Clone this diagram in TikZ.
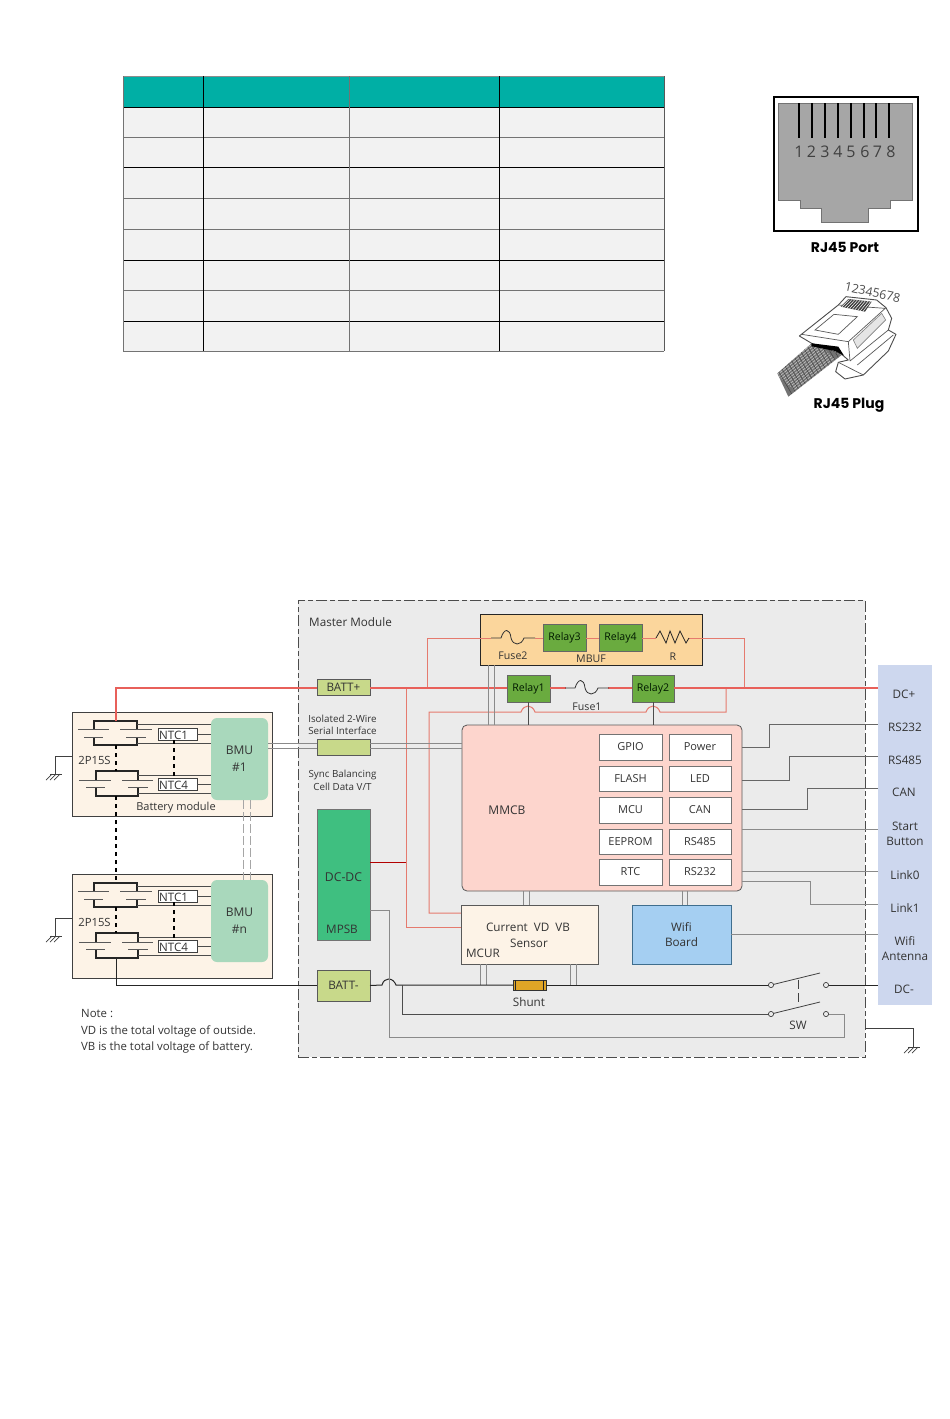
\documentclass[tikz,border=0pt]{standalone}
\usepackage{fontspec}
\setmainfont{Open Sans}
\newfontfamily\gothic{Poppins}
\usetikzlibrary{calc}
\definecolor{txt}{HTML}{333333}
\definecolor{teal}{HTML}{00AFA5}
\definecolor{rowg}{HTML}{F2F2F2}
\definecolor{master}{HTML}{EBEBEB}
\definecolor{modf}{HTML}{FDF3E7}
\definecolor{bmuf}{HTML}{A9D8BC}
\definecolor{battf}{HTML}{C8D98A}
\definecolor{dcf}{HTML}{3FBF80}
\definecolor{mbuff}{HTML}{FBD69C}
\definecolor{relayf}{HTML}{6AAB3F}
\definecolor{mmcbf}{HTML}{FDD5CD}
\definecolor{mcurf}{HTML}{FDF3E7}
\definecolor{wifif}{HTML}{A5CFF2}
\definecolor{wifid}{HTML}{3F6E8E}
\definecolor{panelf}{HTML}{CDD7EE}
\definecolor{redl}{HTML}{E8605A}
\definecolor{redt}{HTML}{E57A6E}
\definecolor{greyl}{HTML}{8A8A8A}
\definecolor{shuntf}{HTML}{E0A526}
\tikzset{
  lab/.style={text=txt,font=\fontsize{11.7}{13}\selectfont,inner sep=0pt,align=center,yshift=-0.8pt},
  small/.style={lab,font=\fontsize{9.8}{11}\selectfont},
  boxbase/.style={draw,inner sep=0pt,outer sep=0pt,text=txt,font=\fontsize{11.7}{13}\selectfont,align=center},
  modbox/.style={boxbase,draw=black!75,fill=modf,line width=0.9pt},
  bmubox/.style={boxbase,fill=bmuf,draw=none,rounded corners=6pt,font=\fontsize{12}{14}\selectfont},
  ntcbox/.style={boxbase,fill=white,draw=black!75,line width=0.8pt},
  battbox/.style={boxbase,fill=battf,draw=black!65,line width=0.8pt},
  dcbox/.style={boxbase,fill=dcf,draw=black!55,line width=0.8pt},
  mbufbox/.style={boxbase,fill=mbuff,draw=black!85,line width=0.9pt},
  relaybox/.style={boxbase,fill=relayf,draw=black!60,line width=0.8pt,text=black!75!green!40!black,font=\fontsize{10.6}{12}\selectfont},
  mmcbbox/.style={boxbase,fill=mmcbf,draw=black!65,line width=0.8pt,rounded corners=5pt},
  chipbox/.style={boxbase,fill=white,draw=black!55,line width=0.7pt,font=\fontsize{11}{13}\selectfont},
  mcurbox/.style={boxbase,fill=mcurf,draw=black!65,line width=0.8pt},
  wifibox/.style={boxbase,fill=wifif,draw=wifid,line width=0.8pt},
  panelbox/.style={boxbase,fill=panelf,draw=none},
  masterbox/.style={boxbase,fill=master,draw=black!70,line width=0.8pt,dash pattern=on 11pt off 3pt on 5pt off 3pt},
  shuntbox/.style={boxbase,fill=shuntf,draw=black!80,line width=0.8pt},
  mainred/.style={draw=redl,line width=2.2pt},
  thinred/.style={draw=redt,line width=1pt},
  darkred/.style={draw=red!70!black,line width=0.9pt},
  greyw/.style={draw=greyl,line width=0.9pt},
  darkw/.style={draw=black!70,line width=0.9pt},
  blackw/.style={draw=black!85,line width=1pt},
  dots/.style={draw=black,line width=1.8pt,dash pattern=on 4pt off 4pt},
}
% box from corners
\newcommand{\bx}[7]{\node[#6,minimum width={((#4)-(#2))*1pt},minimum height={((#5)-(#3))*1pt}] (#1) at ({((#2)+(#4))/2},{((#3)+(#5))/2}) {#7};}
% ground symbol with top at x,y
\newcommand{\gndsym}[2]{%
  \draw[black!75,line width=0.7pt] (#1-5,#2) -- (#1+7,#2);
  \foreach \d in {-3,1,5}{\draw[black!75,line width=0.7pt] (#1+\d,#2) -- (#1+\d-6,#2+6);}}
% fuse waveform
\newcommand{\fusewave}[2]{%
  \draw[black!80,line width=0.8pt] (#1-22,#2) -- (#1-12,#2) .. controls (#1-9,#2-10) and (#1-3,#2-10) .. (#1-2,#2)
   .. controls (#1,#2+8) and (#1+8,#2+8) .. (#1+11,#2) -- (#1+22,#2);}
% switch
\newcommand{\swblade}[1]{%
  \draw[black!75,line width=0.8pt] (sw#1l) -- ++(49,-12);
  \draw[black!75,line width=0.7pt,fill=master] (sw#1l) circle (2.6);
  \draw[black!75,line width=0.7pt,fill=master] (sw#1r) circle (2.6);}
% battery module
\newcommand{\batmod}[3]{% suffix, offset, number text
  \bx{mod#1}{72}{712+#2}{272}{816+#2}{modbox}{}
  \bx{bmu#1}{211}{718+#2}{268}{800+#2}{bmubox}{\raisebox{-3pt}{BMU}\\[3pt]\raisebox{-3pt}{#3}}
  \bx{ntca#1}{158}{728+#2}{197}{740+#2}{ntcbox}{}
  \bx{ntcb#1}{158}{778+#2}{197}{790+#2}{ntcbox}{}
  \node[lab,anchor=west,font=\fontsize{11.6}{12}\selectfont] (nta#1) at (159,734.5+#2) {NTC1};
  \node[lab,anchor=west,font=\fontsize{11.6}{12}\selectfont] (ntb#1) at (159,784.5+#2) {NTC4};
  \coordinate (ca#1) at (116,721+#2);
  \coordinate (cb#1) at (116,745+#2);
  \coordinate (cc#1) at (116,771+#2);
  \coordinate (cd#1) at (116,796+#2);
  % cell brackets
  \draw[blackw,line width=1.2pt] (94,729+#2) |- (137,721+#2) -- (137,729+#2);
  \draw[blackw,line width=1.2pt] (94,737+#2) |- (137,745+#2) -- (137,737+#2);
  \draw[blackw,line width=1.2pt] (96,780+#2) |- (138,771+#2) -- (138,780+#2);
  \draw[blackw,line width=1.2pt] (96,787+#2) |- (138,796+#2) -- (138,787+#2);
  % plates
  \draw[black!65,line width=0.7pt] (78,729+#2) -- (109,729+#2) (84,737+#2) -- (103,737+#2)
     (120,729+#2) -- (152,729+#2) (126,737+#2) -- (146,737+#2)
     (79,780+#2) -- (111,780+#2) (86,787+#2) -- (105,787+#2)
     (122,780+#2) -- (153,780+#2) (128,787+#2) -- (148,787+#2);
  % wires
  \draw[darkw] (137,724+#2) -- (bmu#1.west |- 0,724+#2);
  \draw[darkw] (137,743+#2) -- (bmu#1.west |- 0,743+#2);
  \draw[darkw] (138,775+#2) -- (bmu#1.west |- 0,775+#2);
  \draw[darkw] (138,793+#2) -- (bmu#1.west |- 0,793+#2);
  \draw[darkw] (ntca#1.east) -- (bmu#1.west |- ntca#1.east);
  \draw[darkw] (ntcb#1.east) -- (bmu#1.west |- ntcb#1.east);
  \draw[dots] ([xshift=-3.5pt]ntca#1.south) -- ([xshift=-3.5pt]ntcb#1.north);
  \draw[dots] (cb#1) -- (cc#1);
  \node[lab,font=\fontsize{11.3}{13}\selectfont] (t2p#1) at (94.5,760+#2) {2P15S};
  \draw[black!75,line width=0.7pt] (mod#1.west |- 0,756+#2) -| (55,774+#2);
  \gndsym{55}{774+#2}
}
\begin{document}
\begin{tikzpicture}[x=1pt,y=-1pt]
\useasboundingbox (0,0) rectangle (950,1419);
\fill[white] (0,0) rectangle (950,1419);

% ---------- table
\fill[teal] (123,76) rectangle (664,107);
\fill[rowg] (123,107) rectangle (664,351);
\foreach \y/\c in {76/black!45,107/black,137/black!55,167/black,198/black!55,229/black!55,260/black,290/black!55,321/black,351/black!55}
  \draw[\c,line width=0.9pt] (123,\y) -- (664,\y);
\foreach \x/\c in {123/black!55,203/black,349/black!55,499/black,664/black!65}
  \draw[\c,line width=0.9pt] (\x,76) -- (\x,351);

% ---------- RJ45 port
\node[draw=black,line width=2.6pt,minimum width=144pt,minimum height=134pt,inner sep=0pt] (port) at (846,164) {};
\draw[fill=black!35,draw=black!55,line width=0.8pt] (778,103) -- (912,103) -- (912,200) -- (890,200) -- (890,208) -- (868,208) -- (868,222) -- (821,222) -- (821,208) -- (800,208) -- (800,200) -- (778,200) -- cycle;
\foreach \x in {799.3,812.3,825,838,850.7,863.7,876.3,889.3}
  \draw[black,line width=1.7pt] (\x,103) -- (\x,138);
\foreach \x/\n in {799/1,811.5/2,825/3,838/4,851/5,865/6,877.5/7,891/8}
  \node[text=black!75,font=\fontsize{16}{16}\selectfont,inner sep=0pt] (pn\n) at (\x,152) {\n};
\node[font=\gothic\bfseries\fontsize{14}{14}\selectfont,inner sep=0pt] (portlab) at (845,247) {RJ45 Port};

% ---------- RJ45 plug
\begin{scope}[shift={(770,275)},x=0.3333pt,y=-0.3333pt]
  \path[fill=black!55] (125,205) -- (215,240) -- (55,365) -- (22,295) -- cycle;
  \begin{scope}
    \clip (125,205) -- (215,240) -- (55,365) -- (22,295) -- cycle;
    \foreach \i in {0,9,...,130}
      \draw[black!25,line width=0.7pt] (10+\i*0.62,290+\i*0.55) -- (130+\i*0.62,195+\i*0.55);
    \foreach \i in {0,10,...,220}
      \draw[black!75,line width=0.5pt] (20+\i,280-\i*0.78) -- (70+\i,365-\i*0.78);
  \end{scope}
  \draw[fill=white,draw=black!70,line width=0.9pt,line join=round] (88,183) -- (205,90) -- (228,65) -- (320,75) -- (348,98) -- (365,130) -- (355,165) -- (378,178) -- (355,228) -- (280,300) -- (225,312) -- (197,290) -- (205,262) -- (235,255) -- (215,238) -- (125,205) -- cycle;
  \fill[black] (125,205) -- (205,215) -- (222,242) -- (195,228) -- (125,214) -- cycle;
  \draw[black!65,line width=0.7pt] (95,178) -- (235,200) -- (348,98) (235,200) -- (240,258)
    (205,90) -- (345,100)
    (135,165) -- (192,118) -- (262,125) -- (205,178) -- cycle
    (240,258) -- (355,165) (262,270) -- (370,180) (205,262) -- (280,300);
  \draw[draw=black!50,fill=black!10,line width=0.6pt] (250,195) -- (335,115) -- (347,135) -- (262,220) -- cycle;
  \path[fill=black!75] (212,95) -- (235,72) -- (305,80) -- (285,110) -- cycle;
  \foreach \i in {0,8,...,64}
    \draw[white,line width=0.5pt] (238+\i,73+\i*0.1) -- (215+\i,96+\i*0.2);
  \node[rotate=-12,text=black!70,font=\fontsize{12.3}{12}\selectfont,inner sep=0pt] (plugnum) at (308,52) {12345678};
\end{scope}
\node[font=\gothic\bfseries\fontsize{14}{14}\selectfont,inner sep=0pt] (pluglab) at (849,405) {RJ45 Plug};

% ---------- master module and panel
\bx{master}{298}{600}{865}{1057}{masterbox}{}
\bx{panel}{878}{665}{932}{1005}{panelbox}{}
\node[lab,anchor=west] (tmaster) at (309,621) {Master Module};

% ---------- boxes
\bx{battp}{317}{679}{370}{695}{battbox}{BATT+}
\bx{battn}{317}{970}{370}{1001}{battbox}{BATT-}
\bx{iso}{317}{739}{370}{755}{battbox}{}
\bx{mpsb}{317}{809}{370}{940}{dcbox}{}
\node[lab,font=\fontsize{12.2}{14}\selectfont] (tdc) at (343.5,876) {DC-DC};
\node[lab] (tmpsb) at (342,929) {MPSB};
\node[small] (tiso) at (342.5,724) {Isolated 2-Wire\\[1.4pt]Serial Interface};
\node[small] (tsync) at (342.5,779.5) {Sync Balancing\\[1.4pt]Cell Data V/T};

\bx{mbuf}{480}{614}{702}{665}{mbufbox}{}

\coordinate (jA) at (427,688);
\coordinate (jB) at (744,688);
\coordinate (jC) at (726,688);
\coordinate (jD) at (406,688);

% red sense / supply, drawn before the boxes they meet
\draw[thinred] (jC) -- (726,712) -- (660,712) .. controls (657,704) and (649,704) .. (646,712) -- (535,712) .. controls (532,704) and (524,704) .. (521,712) -- (429,712) -- (429,913) -- (461,913);
\draw[thinred] (jD) -- (406,927) -- (461,927);
\draw[thinred] (jA) |- (491,638);
\draw[thinred] (689,638) -| (jB);

\bx{relay1}{507}{675}{550}{702}{relaybox}{Relay1}
\bx{relay2}{632}{675}{674}{702}{relaybox}{Relay2}
\bx{relay3}{543}{624}{586}{651}{relaybox}{Relay3}
\bx{relay4}{599}{624}{642}{651}{relaybox}{Relay4}
\bx{mmcb}{462}{725}{742}{891}{mmcbbox}{}
\node[lab,font=\fontsize{12}{14}\selectfont] (tmmcb) at (507,809) {MMCB};
\bx{gpio}{599}{734}{662}{760}{chipbox}{GPIO}
\bx{power}{669}{734}{731}{760}{chipbox}{Power}
\bx{flash}{599}{766}{662}{791}{chipbox}{FLASH}
\bx{led}{669}{766}{731}{791}{chipbox}{LED}
\bx{mcu}{599}{797}{662}{823}{chipbox}{MCU}
\bx{can}{669}{797}{731}{823}{chipbox}{CAN}
\bx{eeprom}{599}{829}{662}{854}{chipbox}{EEPROM}
\bx{rsf}{669}{829}{731}{854}{chipbox}{RS485}
\bx{rtc}{599}{859}{662}{885}{chipbox}{RTC}
\bx{rst}{669}{859}{731}{885}{chipbox}{RS232}
\bx{mcur}{461}{905}{598}{964}{mcurbox}{}
\node[lab] (tcur) at (528,927) {Current\hspace{6pt}VD\hspace{6pt}VB};
\node[lab] (tsen) at (529,943) {Sensor};
\node[lab] (tmcur) at (483,953) {MCUR};
\bx{wifi}{632}{905}{731}{964}{wifibox}{Wifi\\[2pt]Board}
\bx{shunt}{513}{980}{546}{990}{shuntbox}{}
\draw[black!85,line width=0.8pt] (515.5,980) -- (515.5,990) (543.5,980) -- (543.5,990);
\node[lab] (tshunt) at (529,1001) {Shunt};

% ---------- battery modules
\batmod{a}{0}{\#1}
\batmod{b}{162}{\#n}
\node[lab,font=\fontsize{11}{13}\selectfont] (tbat) at (176,807) {Battery module};
\draw[dots] (cda) -- (cab);
\foreach \s in {3.5,10.5}
  \draw[black!35,line width=1pt,dash pattern=on 9pt off 3pt] ([xshift=\s pt]bmua.south) -- ([xshift=\s pt]bmub.north);

% ---------- main power
\draw[mainred] (caa) |- (battp.west |- 0,688);
\draw[mainred] (battp.east |- 0,688) -- (relay1.west |- 0,688);
\draw[mainred] (relay1.east |- 0,688) -- (566,688);
\draw[mainred] (608,688) -- (relay2.west |- 0,688);
\draw[mainred] (relay2.east |- 0,688) -- (panel.west |- 0,688);
\fusewave{587}{688}
\node[lab,font=\fontsize{10.6}{12}\selectfont] (tfuse1) at (587,706) {Fuse1};

% MBUF branch
\fusewave{513}{638}
\draw[thinred] (535,638) -- (relay3.west |- 0,638);
\draw[thinred] (relay3.east |- 0,638) -- (relay4.west |- 0,638);
\draw[thinred] (relay4.east |- 0,638) -- (656,638);
\draw[black!85,line width=0.8pt] (656,638) -- (660,631) -- (666,643) -- (670,631) -- (675,643) -- (680,631) -- (686,643) -- (689,638);
\node[lab,font=\fontsize{10.6}{12}\selectfont] (tfuse2) at (513,655) {Fuse2};
\node[lab,font=\fontsize{10.6}{12}\selectfont] (tmbuf) at (591,658) {MBUF};
\node[lab,font=\fontsize{10.6}{12}\selectfont] (tr) at (673,656) {R};

\draw[darkred] (mpsb.east |- 0,862) -- (406,862);
\draw[darkw,line width=0.8pt] (relay1.south) -- (relay1.south |- mmcb.north);
\draw[darkw,line width=0.8pt] (relay2.south) -- (relay2.south |- mmcb.north);

% isolated 2-wire
\foreach \y in {743,748}{
  \draw[greyl,line width=0.9pt] (bmua.east |- 0,\y) -- (iso.west |- 0,\y);
  \draw[greyl,line width=0.9pt] (iso.east |- 0,\y) -- (mmcb.west |- 0,\y);}
% double links
\foreach \x in {488,494}
  \draw[greyl,line width=0.9pt] (mbuf.south -| \x,0) -- (mmcb.north -| \x,0);
\foreach \x in {523.5,529}
  \draw[greyl,line width=0.9pt] (mmcb.south -| \x,0) -- (mcur.north -| \x,0);
\foreach \x in {682,687.5}
  \draw[greyl,line width=0.9pt] (mmcb.south -| \x,0) -- (wifi.north -| \x,0);

% ---------- negative rail
\coordinate (sw1l) at (771,985);
\coordinate (sw1r) at (826,985);
\coordinate (sw2l) at (771,1014);
\coordinate (sw2r) at (826,1014);
\coordinate (jN) at (402,985);
\foreach \x in {480,486,570,576}
  \draw[greyl,line width=0.9pt] (mcur.south -| \x,0) -- (\x,985);
\draw[blackw] (cdb) |- (battn.west);
\draw[blackw] (battn.east) -- (382,985) .. controls (384,977) and (393,977) .. (396,985) -- (shunt.west);
\draw[blackw] (shunt.east) -- (sw1l);
\draw[blackw] (sw1r) -- (panel.west |- sw1r);
\draw[darkw,line width=0.8pt] (jN) |- (sw2l);
\draw[greyl,line width=0.9pt] (mpsb.east |- 0,910) -| (389,1037) -| (844,1014) -- (sw2r);
\swblade{1}
\swblade{2}
\draw[black!75,line width=0.7pt,dash pattern=on 9pt off 4pt] (798,980) -- (798,1003);
\node[lab] (tsw) at (798,1025) {SW};

% ---------- right connectors
\draw[darkw,draw=black!60] (mmcb.east |- 0,747) -| (769,724) -- (panel.west |- 0,724);
\draw[darkw,draw=black!60] (mmcb.east |- 0,780) -| (789,756) -- (panel.west |- 0,756);
\draw[darkw,draw=black!60] (mmcb.east |- 0,809) -| (807,788) -- (panel.west |- 0,788);
\draw[greyw] (mmcb.east |- 0,829) -- (panel.west |- 0,829);
\draw[greyw] (mmcb.east |- 0,871) -- (panel.west |- 0,871);
\draw[greyw] (mmcb.east |- 0,881) -| (810,904) -- (panel.west |- 0,904);
\draw[greyw] (wifi.east) -- (panel.west |- wifi.east);

% panel labels
\node[lab] (pdc) at (904,694) {DC+};
\node[lab] (prst) at (905,727) {RS232};
\node[lab] (prsf) at (905,760) {RS485};
\node[lab] (pcan) at (904,792) {CAN};
\node[lab] (pstart) at (905,833.5) {Start\\[2pt]Button};
\node[lab] (plink0) at (905,874) {Link0};
\node[lab] (plink1) at (905,907) {Link1};
\node[lab] (pwifi) at (905,948) {Wifi\\[2pt]Antenna};
\node[lab] (pdcn) at (904,989) {DC-};

% right ground
\coordinate (gr) at (913,1047);
\draw[black!75,line width=0.8pt] (master.east |- 0,1028) -| (gr);
\gndsym{913}{1047}

% note
\node[lab,anchor=north west,align=left,font=\fontsize{11.4}{16.6}\selectfont] (note) at (81,1008.5) {Note :\\VD is the total voltage of outside.\\VB is the total voltage of battery.};
\end{tikzpicture}
\end{document}
